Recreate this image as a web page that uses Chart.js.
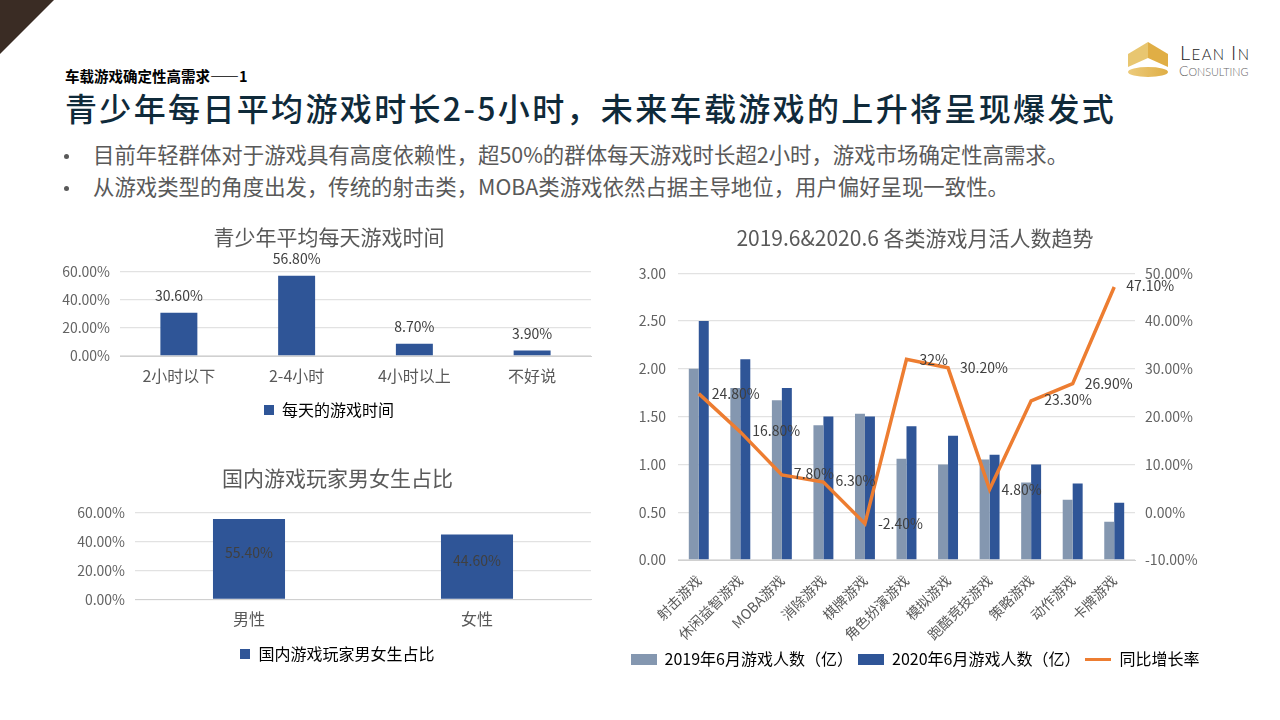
<!DOCTYPE html>
<html lang="zh">
<head>
<meta charset="utf-8">
<title>青少年每日平均游戏时长</title>
<script src="https://cdn.jsdelivr.net/npm/chart.js@4"></script>
<style>
  html, body { margin: 0; padding: 0; background: #fff; }
  body { width: 1280px; height: 720px; position: relative; overflow: hidden; font-family: "Noto Sans CJK SC", sans-serif; }
  .abs { position: absolute; white-space: nowrap; }
  .box { position: absolute; }
  #corner { left: 0; top: 0; width: 54px; height: 54px; background: #3a2c24; clip-path: polygon(0 0, 100% 0, 0 100%); }
  #kicker { left: 65px; top: 66px; font-size: 14.5px; line-height: 20px; font-weight: 700; color: #000; }
  #headline { left: 65px; top: 85px; font-size: 32px; line-height: 44px; font-weight: 500; color: #0f2a3a; letter-spacing: 2.35px; }
  .bullet { left: 93px; font-size: 21.4px; line-height: 30px; color: #595959; }
  .dot { left: 64px; width: 5px; height: 5px; border-radius: 50%; background: #595959; }
  #logoTop { left: 1180px; top: 40px; font-family: Lato, sans-serif; font-weight: 300; color: #222; font-size: 15px; line-height: 24px; letter-spacing: 1.4px; }
  #logoTop b { font-weight: 300; font-size: 20px; }
  #logoSub { left: 1179px; top: 62px; font-family: Lato, sans-serif; font-weight: 300; color: #666; font-size: 10.8px; line-height: 18px; }
  #logoSub b { font-weight: 300; font-size: 14px; }
</style>
</head>
<body>
<div class="box" id="corner"></div>
<svg class="box" style="left:1128px;top:42px" width="42" height="37" viewBox="0 0 42 37">
  <defs>
    <linearGradient id="gold" x1="0" x2="1"><stop offset="0" stop-color="#eccb7c"/><stop offset="1" stop-color="#dfae45"/></linearGradient>
  </defs>
  <polygon points="0,12 20,0 20,16 0,25" fill="#e8c670"/>
  <polygon points="20,0 40,12 40,25 20,16" fill="#e0ae45"/>
  <ellipse cx="20" cy="30" rx="20" ry="5" fill="url(#gold)"/>
</svg>
<div class="abs" id="logoTop"><b>L</b>EAN <b>I</b>N</div>
<div class="abs" id="logoSub"><b>C</b>ONSULTING</div>

<div class="abs" id="kicker">车载游戏确定性高需求——1</div>
<div class="abs" id="headline">青少年每日平均游戏时长2-5小时，未来车载游戏的上升将呈现爆发式</div>
<div class="box dot" style="top:154px"></div>
<div class="abs bullet" style="top:139px">目前年轻群体对于游戏具有高度依赖性，超50%的群体每天游戏时长超2小时，游戏市场确定性高需求。</div>
<div class="box dot" style="top:186px"></div>
<div class="abs bullet" style="top:171px">从游戏类型的角度出发，传统的射击类，MOBA类游戏依然占据主导地位，用户偏好呈现一致性。</div>

<div class="box" style="left:60px;top:222px;width:538px;height:206px"><canvas id="dailyChart"></canvas></div>
<div class="box" style="left:74px;top:463px;width:527px;height:209px"><canvas id="genderChart"></canvas></div>
<div class="box" style="left:598px;top:225px;width:634px;height:452px"><canvas id="trendChart"></canvas></div>

<script>
// 每天游戏时间
const dailyCategories = ['2小时以下', '2-4小时', '4小时以上', '不好说'];
const dailyValues = [30.6, 56.8, 8.7, 3.9];
const dailyLabels = ['30.60%', '56.80%', '8.70%', '3.90%'];

// 男女占比
const genderCategories = ['男性', '女性'];
const genderValues = [55.4, 44.6];
const genderLabels = ['55.40%', '44.60%'];

// 月活趋势
const gameTypes = ['射击游戏', '休闲益智游戏', 'MOBA游戏', '消除游戏', '棋牌游戏', '角色扮演游戏', '模拟游戏', '跑酷竞技游戏', '策略游戏', '动作游戏', '卡牌游戏'];
const players2019 = [2.0, 1.8, 1.67, 1.41, 1.53, 1.06, 1.0, 1.05, 0.81, 0.63, 0.4];
const players2020 = [2.5, 2.1, 1.8, 1.5, 1.5, 1.4, 1.3, 1.1, 1.0, 0.8, 0.6];
const growthRate = [24.8, 16.8, 7.8, 6.3, -2.4, 32, 30.2, 4.8, 23.3, 26.9, 47.1];
const growthLabels = ['24.80%', '16.80%', '7.80%', '6.30%', '-2.40%', '32%', '30.20%', '4.80%', '23.30%', '26.90%', '47.10%'];
// 折线标签相对数据点的偏移（像素）
const growthLabelShift = [[13, 0], [12, -1], [12, -1], [12, -1], [13, 0], [13, 0], [12, 0], [12, 0], [13, -1], [12, 0], [12, -1]];

const FONT = '"Noto Sans CJK SC", sans-serif';
const TEXT = '#595959';
const GRID = '#e2e2e2';
const NAVY = '#2f5597';
const STEEL = '#8497b0';
const ORANGE = '#ed7d31';

Chart.defaults.font.family = FONT;
Chart.defaults.color = TEXT;
Chart.defaults.animation = false;
Chart.defaults.responsive = true;
Chart.defaults.maintainAspectRatio = false;

// 在柱子/折线上写数据标签
const dataLabelPlugin = {
    id: 'dataLabelPlugin',
    afterDatasetsDraw(chart, args, opts) {
        const ctx = chart.ctx;
        const meta = chart.getDatasetMeta(opts.dataset || 0);
        ctx.save();
        ctx.font = '14px ' + FONT;
        ctx.fillStyle = '#404040';
        ctx.textBaseline = 'middle';
        ctx.textAlign = opts.align || 'center';
        meta.data.forEach((el, i) => {
            const shift = opts.shift ? opts.shift[i] : [0, 0];
            let y = el.y + shift[1];
            if (opts.inside) y = (el.y + el.base) / 2 + opts.inside;
            else if (opts.above) y = el.y - opts.above;
            ctx.fillText(opts.labels[i], el.x + shift[0], y);
        });
        ctx.restore();
    }
};

function swatch(color, w, h) {
    const c = document.createElement('canvas');
    c.width = w;
    c.height = h;
    const g = c.getContext('2d');
    g.fillStyle = color;
    g.fillRect(0, 0, w, h);
    return c;
}

function legendOptions(colors, gap) {
    return {
        position: 'bottom',
        labels: {
            usePointStyle: true,
            pointStyleWidth: 10,
            boxHeight: 10,
            padding: gap,
            font: { size: 16 },
            color: TEXT,
            generateLabels: chart => chart.data.datasets.map((ds, i) => ({
                text: ds.label,
                pointStyle: colors[i],
                fillStyle: ds.backgroundColor,
                strokeStyle: 'transparent',
                lineWidth: 0,
                datasetIndex: i
            }))
        }
    };
}

function simpleBar(id, cats, values, labels, seriesName, max, step, pct, sizes, labelOpts) {
    return new Chart(document.getElementById(id), {
        type: 'bar',
        data: {
            labels: cats,
            datasets: [{ label: seriesName, data: values, backgroundColor: NAVY, categoryPercentage: pct, barPercentage: 1 }]
        },
        options: {
            plugins: {
                title: { display: true, text: sizes.title, font: { size: 21, weight: 'normal' }, color: TEXT, padding: { top: 2, bottom: sizes.titleGap } },
                legend: legendOptions([swatch(NAVY, 10, 10)], 10),
                tooltip: { enabled: false },
                dataLabelPlugin: Object.assign({ labels: labels }, labelOpts)
            },
            scales: {
                x: {
                    grid: { display: false },
                    border: { color: '#d0d0d0' },
                    ticks: { font: { size: 16 }, color: TEXT, padding: 2, maxRotation: 0 },
                    afterFit(s) { s.height = sizes.xHeight; }
                },
                y: {
                    min: 0, max: max,
                    grid: { color: GRID, lineWidth: 1.3, drawTicks: false },
                    border: { display: false },
                    ticks: { stepSize: step, font: { size: 14 }, color: '#636363', padding: 10, callback: v => v.toFixed(2) + '%' },
                    afterFit(s) { s.width = sizes.yWidth; }
                },
                // 空的右轴，只用来留出右边距，标题和图例仍按画布居中
                gutter: {
                    position: 'right',
                    grid: { display: false, drawTicks: false },
                    border: { display: false },
                    ticks: { display: false },
                    afterFit(s) { s.width = sizes.right; }
                }
            }
        },
        plugins: [dataLabelPlugin]
    });
}

simpleBar('dailyChart', dailyCategories, dailyValues, dailyLabels, '每天的游戏时间', 60, 20, 0.314,
    { title: '青少年平均每天游戏时间', right: 7, yWidth: 60, xHeight: 36, titleGap: 22 }, { above: 17 });

simpleBar('genderChart', genderCategories, genderValues, genderLabels, '国内游戏玩家男女生占比', 60, 20, 0.316,
    { title: '国内游戏玩家男女生占比', right: 10, yWidth: 61, xHeight: 36.5, titleGap: 22 }, { inside: -6 });

new Chart(document.getElementById('trendChart'), {
    type: 'bar',
    data: {
        labels: gameTypes,
        datasets: [
            { type: 'line', label: '同比增长率', data: growthRate, yAxisID: 'y2', borderColor: ORANGE, backgroundColor: ORANGE, borderWidth: 3.5, pointRadius: 0, tension: 0, order: 0 },
            { label: '2019年6月游戏人数（亿）', data: players2019, yAxisID: 'y', backgroundColor: STEEL, categoryPercentage: 0.48, barPercentage: 1, order: 1 },
            { label: '2020年6月游戏人数（亿）', data: players2020, yAxisID: 'y', backgroundColor: NAVY, categoryPercentage: 0.48, barPercentage: 1, order: 1 }
        ]
    },
    options: {
        plugins: {
            title: { display: true, text: '2019.6&2020.6 各类游戏月活人数趋势', font: { size: 21, weight: 'normal' }, color: TEXT, padding: { top: 0, bottom: 23 } },
            legend: {
                position: 'bottom',
                labels: {
                    usePointStyle: true,
                    pointStyleWidth: 26,
                    boxHeight: 10,
                    padding: 5,
                    font: { size: 16 },
                    color: TEXT,
                    sort: (a, b) => [1, 2, 0].indexOf(a.datasetIndex) - [1, 2, 0].indexOf(b.datasetIndex),
                    generateLabels: chart => chart.data.datasets.map((ds, i) => ({
                        text: ds.label,
                        pointStyle: i === 0 ? swatch(ORANGE, 26, 3) : swatch(ds.backgroundColor, 26, 11),
                        strokeStyle: 'transparent',
                        lineWidth: 0,
                        datasetIndex: i
                    }))
                }
            },
            tooltip: { enabled: false },
            dataLabelPlugin: { dataset: 0, labels: growthLabels, shift: growthLabelShift, align: 'left' }
        },
        scales: {
            x: {
                grid: { display: false },
                border: { color: '#d0d0d0' },
                ticks: { font: { size: 14 }, color: TEXT, minRotation: 45, maxRotation: 45, padding: 4, autoSkip: false },
                afterFit(s) { s.height = 86; }
            },
            y: {
                position: 'left', min: 0, max: 3,
                grid: { color: GRID, lineWidth: 1.3, drawTicks: false },
                border: { display: false },
                ticks: { stepSize: 0.5, font: { size: 14 }, color: '#636363', padding: 12, callback: v => v.toFixed(2) },
                afterFit(s) { s.width = 80; }
            },
            y2: {
                position: 'right', min: -10, max: 50,
                grid: { display: false, drawTicks: false },
                border: { display: false },
                ticks: { stepSize: 10, font: { size: 14 }, color: '#636363', padding: 10, callback: v => v.toFixed(2) + '%' },
                afterFit(s) { s.width = 97; }
            }
        }
    },
    plugins: [dataLabelPlugin]
});
</script>
</body>
</html>
